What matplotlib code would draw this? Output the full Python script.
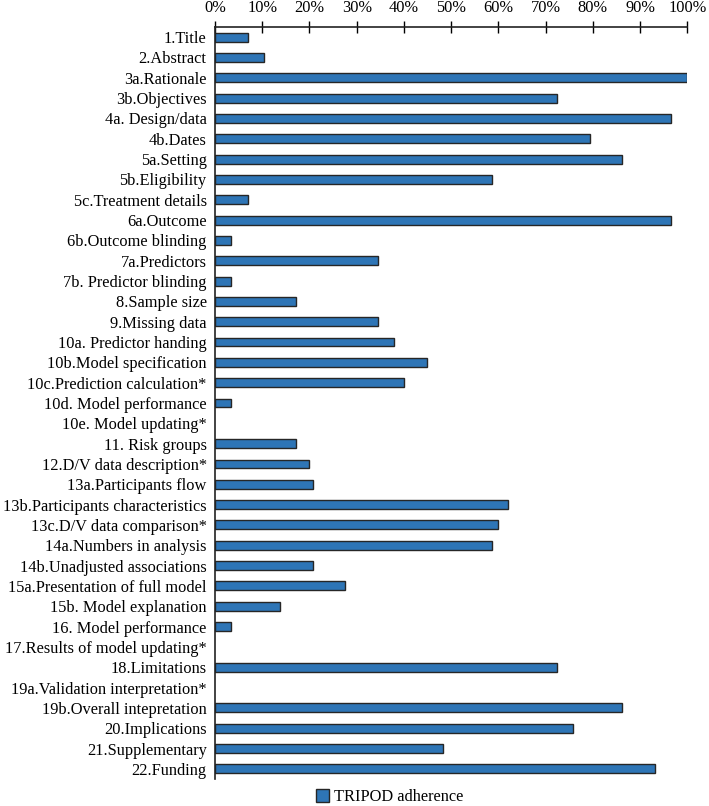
import matplotlib
matplotlib.use("Agg")
import matplotlib.pyplot as plt
from matplotlib.patches import Patch
from matplotlib.ticker import FuncFormatter

categories = [
    "1.Title", "2.Abstract", "3a.Rationale", "3b.Objectives", "4a. Design/data",
    "4b.Dates", "5a.Setting", "5b.Eligibility", "5c.Treatment details", "6a.Outcome",
    "6b.Outcome blinding", "7a.Predictors", "7b. Predictor blinding", "8.Sample size",
    "9.Missing data", "10a. Predictor handing", "10b.Model specification",
    "10c.Prediction calculation*", "10d. Model performance", "10e. Model updating*",
    "11. Risk groups", "12.D/V data description*", "13a.Participants flow",
    "13b.Participants characteristics", "13c.D/V data comparison*",
    "14a.Numbers in analysis", "14b.Unadjusted associations",
    "15a.Presentation of full model", "15b. Model explanation",
    "16. Model performance", "17.Results of model updating*", "18.Limitations",
    "19a.Validation interpretation*", "19b.Overall intepretation",
    "20.Implications", "21.Supplementary", "22.Funding",
]
adherence = [
    6.9, 10.3, 100.0, 72.4, 96.6,
    79.3, 86.2, 58.6, 6.9, 96.6,
    3.4, 34.5, 3.4, 17.2,
    34.5, 37.9, 44.8,
    40.0, 3.4, 0.0,
    17.2, 20.0, 20.7,
    62.1, 60.0,
    58.6, 20.7,
    27.6, 13.8,
    3.4, 0.0, 72.4,
    0.0, 86.2,
    75.9, 48.3, 93.1,
]
xticks = [0, 10, 20, 30, 40, 50, 60, 70, 80, 90, 100]
series_name = "TRIPOD adherence"

plt.rcParams['font.family'] = ['Liberation Serif', 'DejaVu Serif']

fig = plt.figure(figsize=(7.09, 8.06), dpi=100)
ax = fig.add_axes([215/709, 1-779/806, (687.3-215)/709, (779-27)/806])

n = len(categories)
ypos = list(range(n))
edge_widths = [1.0 if v > 0 else 0.0 for v in adherence]
ax.barh(ypos, adherence, height=0.44, color="#2E75B6", edgecolor="#262626",
        linewidth=edge_widths)

ax.set_xlim(0, 100)
ax.set_ylim(n - 0.5, -0.5)
ax.set_yticks(ypos)
ax.set_yticklabels(categories, fontsize=11.8)
ax.tick_params(axis='y', length=0, pad=6)

ax.xaxis.tick_top()
ax.set_xticks(xticks)
ax.xaxis.set_major_formatter(FuncFormatter(lambda v, p: f"{int(v)}%"))
ax.tick_params(axis='x', direction='inout', length=8, width=1, labelsize=11.8, pad=4)

for s in ['right', 'bottom']:
    ax.spines[s].set_visible(False)
for s in ['top', 'left']:
    ax.spines[s].set_linewidth(1.2)
    ax.spines[s].set_color('#222222')

handle = Patch(facecolor="#2E75B6", edgecolor="#262626", linewidth=1.0)
fig.legend([handle], [series_name], loc='center', bbox_to_anchor=(390/709, 1-797/806),
           frameon=False, fontsize=11.8, handlelength=0.8, handleheight=0.8, handletextpad=0.3)

fig.savefig("out.png", dpi=100)
